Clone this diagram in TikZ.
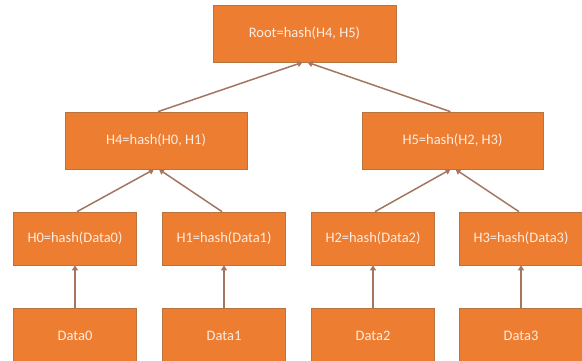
\documentclass[tikz,border=0pt]{standalone}
\usepackage{fontspec}
\setmainfont{Carlito}
\usetikzlibrary{arrows.meta}
\definecolor{hashfill}{HTML}{ED7D31}
\definecolor{hashline}{HTML}{B8743F}
\definecolor{hasharrow}{HTML}{A47660}
\definecolor{hashtext}{HTML}{FCEDE3}
\tikzset{
	hashbox/.style={draw=hashline, line width=0.7pt, fill=hashfill, text=hashtext, font=\fontsize{14.5}{16}\selectfont, inner sep=0pt},
	hashlink/.style={draw=hasharrow, line width=1.5pt, -{Triangle[width=6pt,length=5pt]}}
}
\begin{document}
\begin{tikzpicture}[x=1pt,y=1pt]
	\clip (0,0) rectangle (582,360);
	\fill[white] (0,0) rectangle (582,360);

	\node[hashbox, minimum width=183pt, minimum height=57pt] (root) at (304.5,326.5) {Root=hash(H4, H5)};
	\node[hashbox, minimum width=182pt, minimum height=57pt] (h4) at (156,219.5) {H4=hash(H0, H1)};
	\node[hashbox, minimum width=181pt, minimum height=57pt] (h5) at (452.5,219.5) {H5=hash(H2, H3)};

	\node[hashbox, minimum width=123pt, minimum height=53pt] (h0) at (75,121.5) {H0=hash(Data0)};
	\node[hashbox, minimum width=123pt, minimum height=53pt] (h1) at (224,121.5) {H1=hash(Data1)};
	\node[hashbox, minimum width=123pt, minimum height=53pt] (h2) at (373,121.5) {H2=hash(Data2)};
	\node[hashbox, minimum width=123pt, minimum height=53pt] (h3) at (521,121.5) {H3=hash(Data3)};

	\node[hashbox, minimum width=123pt, minimum height=56pt] (d0) at (75,24) {Data0};
	\node[hashbox, minimum width=123pt, minimum height=56pt] (d1) at (224,24) {Data1};
	\node[hashbox, minimum width=123pt, minimum height=56pt] (d2) at (373,24) {Data2};
	\node[hashbox, minimum width=123pt, minimum height=56pt] (d3) at (521,24) {Data3};

	\draw[hashlink] (d0.north) -- (h0.south);
	\draw[hashlink] (d1.north) -- (h1.south);
	\draw[hashlink] (d2.north) -- (h2.south);
	\draw[hashlink] (d3.north) -- (h3.south);

	\draw[hashlink] ([xshift=2pt]h0.north) -- ([xshift=-2pt]h4.south);
	\draw[hashlink] ([xshift=-2pt]h1.north) -- ([xshift=3pt]h4.south);
	\draw[hashlink] ([xshift=2pt]h2.north) -- ([xshift=-2pt]h5.south);
	\draw[hashlink] ([xshift=-2pt]h3.north) -- ([xshift=3pt]h5.south);

	\draw[hashlink] ([xshift=2pt]h4.north) -- ([xshift=-2pt]root.south);
	\draw[hashlink] ([xshift=-2pt]h5.north) -- ([xshift=3pt]root.south);
\end{tikzpicture}
\end{document}
